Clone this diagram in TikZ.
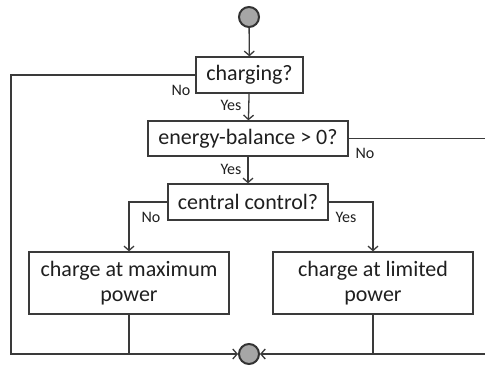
\documentclass[tikz,border=0pt]{standalone}
\usepackage{fontspec}
\setmainfont{Carlito}
\usetikzlibrary{arrows.meta}
\definecolor{linegray}{HTML}{3A3A3A}
\definecolor{dotgray}{HTML}{A6A6A6}
\definecolor{txtgray}{HTML}{1F1F1F}

\begin{document}
\begin{tikzpicture}[x=0.5pt, y=-0.5pt,
  box/.style={draw=linegray, line width=0.65pt, fill=white, text=txtgray, font=\fontsize{11}{12.5}\selectfont, align=center, inner sep=0pt},
  dot/.style={circle, draw=black!80, line width=1pt, fill=dotgray, minimum size=10pt, inner sep=0pt},
  lbl/.style={text=txtgray, font=\fontsize{8}{9}\selectfont, inner sep=0pt},
  flow/.style={draw=linegray, line width=0.65pt},
  >={Straight Barb[length=2.2pt,width=5pt]}]

\useasboundingbox (0,0) rectangle (485,367);
\clip (0,0) rectangle (485,367);

\node[dot] (Start) at (249,17) {};
\node[box, minimum width=53.5pt, minimum height=18pt] (Chg) at (249.5,75) {charging?};
\node[box, minimum width=100pt, minimum height=17.5pt] (Bal) at (248,138.5) {energy-balance > 0?};
\node[box, minimum width=80pt, minimum height=18pt] (Ctl) at (248,202) {central control?};
\node[box, minimum width=100pt, minimum height=31pt] (MaxP) at (129,283) {charge at maximum\\power};
\node[box, minimum width=100pt, minimum height=31pt] (LimP) at (373,283) {charge at limited\\power};
\node[dot] (Stop) at (249,354) {};

\coordinate (L1) at (11,75);
\coordinate (L2) at (11,354);
\coordinate (R1) at (510,138.5);
\coordinate (R2) at (510,354);

\path[flow, ->] (Start) edge (Chg);
\path[flow, ->] (Chg) edge (Bal);
\path[flow, ->] (Bal) edge (Ctl);
\draw[flow, ->] (Chg.west) -- (L1) -- (L2) -- (Stop.west);
\draw[flow, ->] (Bal.east) -- (R1) -- (R2) -- (Stop.east);
\draw[flow, ->] (Ctl.west) -| (MaxP.north);
\draw[flow, ->] (Ctl.east) -| (LimP.north);
\draw[flow] (MaxP.south) -- (MaxP.south |- Stop.west);
\draw[flow] (LimP.south) -- (LimP.south |- Stop.east);

\node[lbl] (NoChg) at (181,90) {No};
\node[lbl] (YesChg) at (231,105) {Yes};
\node[lbl] (NoBal) at (365,153) {No};
\node[lbl] (YesBal) at (231,169) {Yes};
\node[lbl] (NoCtl) at (151,217) {No};
\node[lbl] (YesCtl) at (346,217) {Yes};

\end{tikzpicture}
\end{document}
